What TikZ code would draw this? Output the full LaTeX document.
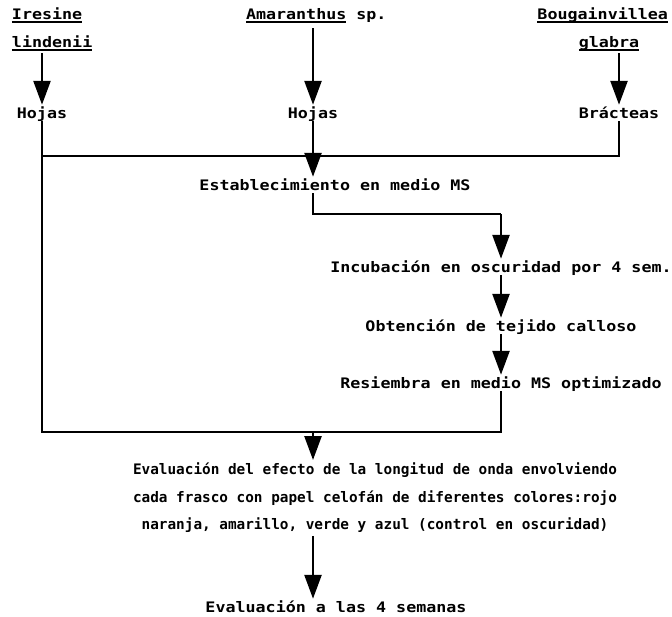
\documentclass[tikz,border=0pt]{standalone}
\usepackage{fontspec}
\newfontfamily\dotfont[FakeStretch=1.15]{DejaVu Sans Mono Bold}
\newfontfamily\dotfontn[FakeStretch=0.99]{DejaVu Sans Mono Bold}
\usetikzlibrary{arrows.meta}
\newcommand\uln[1]{\setbox0\hbox{#1}\rlap{\rule[-3.5pt]{\wd0}{1.6pt}}\box0\relax}
\begin{document}
\begin{tikzpicture}[x=1pt,y=-1pt,
  lbl/.style={inner sep=0pt, outer sep=3pt, text height=10.5pt, text depth=0pt,
              font=\fontsize{14.5}{16}\selectfont\dotfont},
  blk/.style={inner sep=0pt, outer sep=3pt, align=center,
              font=\fontsize{14.5}{27.5}\selectfont\dotfontn},
  conn/.style={line width=1.8pt},
  arr/.style={line width=2.6pt, -{Triangle[width=17pt,length=24pt]}},
]
\useasboundingbox (0,0) rectangle (672,616);

% sources
\node[lbl,anchor=west] (ires) at (9,14) {\uln{Iresine}};
\node[lbl,anchor=west] (lind) at (9,42) {\uln{lindenii}};
\node[lbl] (hojL) at (42,113) {Hojas};
\node[lbl,anchor=west] (amar) at (243,14) {\uln{Amaranthus} sp.};
\node[lbl] (hojM) at (313,113) {Hojas};
\node[lbl,anchor=east] (boug) at (671,14) {\uln{Bougainvillea}};
\node[lbl] (glab) at (609,42) {\uln{glabra}};
\node[lbl] (brac) at (619,113) {Brácteas};

% process
\node[lbl] (est) at (335,185) {Establecimiento en medio MS};
\node[lbl] (inc) at (501,267) {Incubación en oscuridad por 4 sem.};
\node[lbl] (obt) at (501,326) {Obtención de tejido calloso};
\node[lbl] (res) at (501,383) {Resiembra en medio MS optimizado};
\node[blk,anchor=north] (eval) at (375,460)
  {Evaluación del efecto de la longitud de onda envolviendo\\
   cada frasco con papel celofán de diferentes colores:rojo\\
   naranja, amarillo, verde y azul (control en oscuridad)};
\node[lbl] (fin) at (336,607) {Evaluación a las 4 semanas};

% junction points
\coordinate (j1) at (313,156);
\coordinate (s1) at (501,214);
\coordinate (j2) at (313,432);
\coordinate (j3) at (501,432);

% arrows from sources
\draw[arr, shorten <=3pt] (hojL.north |- lind.south) -- (hojL.north);
\draw[arr, shorten <=6pt] (hojM.north |- amar.south) -- (hojM.north);
\draw[arr, shorten <=3pt] (brac.north |- glab.south) -- (brac.north);

% merge lines
\draw[conn] (hojL.south |- j1) -| (brac.south);
\draw[conn] (hojL.south) |- (j3) -- (res.south);
\draw[arr] (hojM.south) -- (hojM.south |- est.north);

% step
\draw[conn] (hojM.south |- est.south) |- (s1);
\draw[arr] (s1) -- (inc.north);
\draw[arr] (inc.south) -- (obt.north);
\draw[arr] (obt.south) -- (res.north);

% evaluation
\draw[arr] (j2) -- (j2 |- eval.north);
\draw[arr] (j2 |- eval.south) -- (j2 |- fin.north);
\end{tikzpicture}
\end{document}
